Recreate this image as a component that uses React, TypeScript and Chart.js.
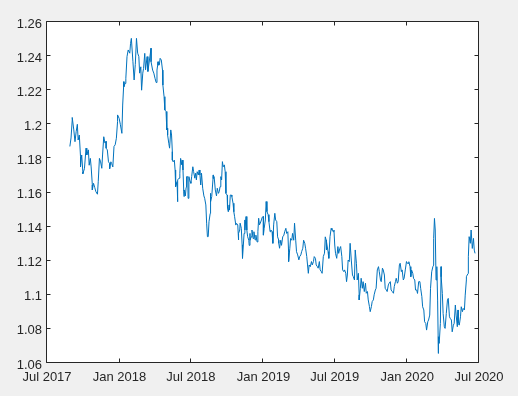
import { useEffect, useRef } from "react";
import { Chart, registerables } from "chart.js";

Chart.register(...registerables);

// x axis: days since 1 Jul 2017
const xTickDays = [0, 184, 365, 549, 730, 914, 1096];
const xTickLabels = ["Jul 2017", "Jan 2018", "Jul 2018", "Jan 2019", "Jul 2019", "Jan 2020", "Jul 2020"];
const yTickValues = [1.06, 1.08, 1.1, 1.12, 1.14, 1.16, 1.18, 1.2, 1.22, 1.24, 1.26];

// observation days (since 1 Jul 2017)
const days = [
  58, 61, 64, 64, 68, 71, 74, 77, 79, 82, 85, 85, 88, 91, 91, 95, 99, 101, 105, 107, 110, 112, 115, 115, 118, 121, 124, 128, 130, 133,
  136, 139, 141, 144, 147, 150, 150, 153, 156, 159, 159, 162, 164, 167, 170, 173, 176, 179, 179, 183, 186, 190, 192, 195, 195, 198, 200, 203, 206, 210,
  212, 214, 218, 221, 224, 227, 230, 233, 235, 238, 240, 243, 245, 248, 250, 254, 256,
  264, 264, 268, 271, 274, 277, 279, 282, 282, 285, 287, 290, 293, 294, 297, 299, 299, 302, 304, 306, 306, 309, 311, 314, 316, 318, 318, 320, 323,
  325, 325, 327, 327, 330, 331, 332, 335, 337, 339, 342, 343, 345, 347, 348, 348, 351, 353, 354, 357, 358, 360, 363, 365, 367, 370, 372, 375, 377, 379,
  381, 384, 386, 388, 390, 392, 395, 398, 400, 403, 405, 407, 409, 411, 414, 415, 415, 418, 420, 422, 422, 424, 427, 430, 432, 435, 437, 439, 441, 443,
  445, 447, 450, 452, 454, 457, 458, 460, 462, 463, 465, 468, 469, 472, 474, 476, 479, 481,
  484, 486, 486, 489, 490, 493, 495, 495, 497, 500, 502, 502, 505, 507, 509, 512, 513, 515, 515, 518, 520, 523, 525, 528, 530, 533, 535, 537, 539, 541,
  544, 546, 549, 549, 551, 554, 556, 558, 561, 563, 566, 568, 571, 573, 575, 578, 580, 583, 585, 588, 588, 590, 593, 595, 598, 601, 603, 606, 608, 611,
  613, 613, 616, 618, 621, 623, 626, 628, 631, 633, 636, 639, 641, 644, 646, 649, 651, 654, 656, 659, 661, 663, 665, 668, 671, 673, 676, 678, 681, 683,
  686, 688, 691, 693, 696, 698, 701, 704, 706,
  708, 708, 710, 713, 715, 718, 721, 723, 726, 728, 730, 732, 735, 738, 740, 743, 745, 748, 750, 753, 755, 758, 760, 762, 764, 767, 769, 772, 775, 777,
  780, 782, 785, 787, 790, 792, 792, 795, 797, 800, 802, 805, 808, 810, 813, 815, 818, 820, 823, 825, 828, 830, 833, 835, 838, 841, 843, 846, 848, 851,
  853, 856, 858, 861, 863, 866, 868, 871, 873, 876, 879, 881, 884, 886, 889, 891, 894, 896, 899, 901, 904, 906, 909, 912, 914,
  916, 918, 921, 923, 923, 925, 928, 930, 933, 935, 938, 940, 943, 946, 948, 951, 953, 956, 958, 961, 963, 966, 968, 971, 973, 976, 979, 981, 981, 983,
  985, 987, 989, 991, 993, 993, 995, 998, 1000, 1000, 1003, 1005, 1008, 1010, 1013, 1016, 1018, 1021, 1023, 1026, 1028, 1031, 1033, 1036, 1038, 1041, 1043, 1043, 1046, 1049,
  1051, 1054, 1056, 1059, 1061, 1064, 1064, 1066, 1069, 1069, 1071, 1074, 1076, 1079, 1082, 1084, 1086,
];

// exchange rate values
const rates = [
  1.187, 1.192, 1.2025, 1.204, 1.1967, 1.1898, 1.1957, 1.2, 1.1908, 1.1937, 1.181, 1.175, 1.182, 1.172, 1.171, 1.174, 1.186, 1.182, 1.185, 1.176, 1.18, 1.175, 1.1644, 1.1615, 1.1654, 1.163, 1.1605, 1.159, 1.1663, 1.18,
  1.178, 1.1742, 1.182, 1.1927, 1.189, 1.19, 1.186, 1.185, 1.178, 1.177, 1.174, 1.178, 1.177, 1.175, 1.187, 1.188, 1.1918, 1.2015, 1.2055, 1.2035, 1.2, 1.1947, 1.2113, 1.225, 1.222, 1.224, 1.227, 1.2397, 1.2436, 1.2417,
  1.2475, 1.2504, 1.2367, 1.226, 1.235, 1.2504, 1.2417, 1.2397, 1.23, 1.2337, 1.22, 1.23, 1.2328, 1.2416, 1.232, 1.2397, 1.231,
  1.2446, 1.2367, 1.2318, 1.23, 1.227, 1.2245, 1.2318, 1.2367, 1.2348, 1.2348, 1.2387, 1.2377, 1.2318, 1.223, 1.2162, 1.2143, 1.2084, 1.2075, 1.1967, 1.1977, 1.1937, 1.1889, 1.186, 1.1967, 1.1937, 1.184, 1.179, 1.178, 1.179,
  1.1732, 1.1713, 1.1654, 1.1634, 1.1664, 1.1546, 1.1674, 1.1684, 1.1713, 1.18, 1.1762, 1.179, 1.1732, 1.1605, 1.1576, 1.1615, 1.158, 1.163, 1.1693, 1.1693, 1.1566, 1.1693, 1.1664, 1.1654, 1.1693, 1.1751, 1.1722, 1.1684, 1.1713, 1.1674,
  1.1722, 1.1703, 1.1732, 1.1703, 1.1644, 1.1713, 1.1625, 1.158, 1.1566, 1.1527, 1.142, 1.1341, 1.1341, 1.1429, 1.1477, 1.1595, 1.1546, 1.1576, 1.1644, 1.1703, 1.1683, 1.1693, 1.1615, 1.158, 1.1625, 1.1595, 1.1605, 1.1634, 1.1693, 1.1674,
  1.1781, 1.1751, 1.1762, 1.1722, 1.1595, 1.1585, 1.1507, 1.1487, 1.1527, 1.1497, 1.1585, 1.1585, 1.1576, 1.1537, 1.1487, 1.1458, 1.1409, 1.1419,
  1.141, 1.1322, 1.136, 1.138, 1.142, 1.139, 1.1293, 1.1283, 1.1214, 1.136, 1.1439, 1.138, 1.1459, 1.138, 1.1341, 1.132, 1.129, 1.136, 1.132, 1.134, 1.138, 1.133, 1.137, 1.1322, 1.135, 1.131, 1.137, 1.1449, 1.141, 1.142,
  1.1439, 1.1455, 1.1459, 1.135, 1.139, 1.1439, 1.1547, 1.1488, 1.147, 1.1429, 1.137, 1.138, 1.137, 1.1302, 1.141, 1.1478, 1.1439, 1.1429, 1.134, 1.132, 1.1302, 1.1273, 1.132, 1.129, 1.134, 1.135, 1.137, 1.139, 1.136, 1.137,
  1.1244, 1.1195, 1.1273, 1.133, 1.132, 1.136, 1.132, 1.142, 1.132, 1.1253, 1.1234, 1.1205, 1.1224, 1.1234, 1.1253, 1.1273, 1.132, 1.1302, 1.1273, 1.1224, 1.1175, 1.1126, 1.1175, 1.1165, 1.1195, 1.1175, 1.1195, 1.1224, 1.1214, 1.1175,
  1.1165, 1.1156, 1.1195, 1.1146, 1.1136, 1.1126, 1.1224, 1.1244, 1.134,
  1.1322, 1.1263, 1.1312, 1.1253, 1.1214, 1.1341, 1.139, 1.138, 1.137, 1.138, 1.1292, 1.1243, 1.1214, 1.1283, 1.1243, 1.1273, 1.1283, 1.1224, 1.1146, 1.1136, 1.1146, 1.1126, 1.1077, 1.1116, 1.1204, 1.1195, 1.1302, 1.1204, 1.1116, 1.1107,
  1.1087, 1.1263, 1.1185, 1.1087, 1.1126, 1.1, 1.097, 1.1038, 1.1097, 1.1038, 1.1077, 1.1019, 1.1068, 1.1009, 1.1019, 1.097, 1.0931, 1.0901, 1.0931, 1.096, 1.097, 1.1, 1.1028, 1.1038, 1.1146, 1.1165, 1.1136, 1.1087, 1.1077, 1.1156,
  1.1146, 1.1116, 1.1038, 1.1028, 1.1019, 1.1058, 1.1068, 1.1077, 1.1028, 1.1019, 1.1009, 1.1048, 1.1077, 1.1097, 1.1068, 1.1077, 1.1175, 1.1185, 1.1136, 1.1146, 1.1087, 1.1097, 1.1146, 1.1195, 1.1185,
  1.1184, 1.1194, 1.1165, 1.1116, 1.1106, 1.1145, 1.1126, 1.1096, 1.1087, 1.1028, 1.1028, 1.1008, 1.1077, 1.1077, 1.1038, 1.0989, 1.093, 1.0911, 1.0842, 1.0832, 1.0793, 1.0842, 1.0852, 1.0881, 1.1038, 1.1135, 1.1165, 1.1174, 1.1331, 1.1448,
  1.138, 1.1087, 1.1165, 1.0969, 1.0656, 1.0754, 1.0715, 1.0832, 1.1165, 1.1106, 1.1008, 1.089, 1.0813, 1.0803, 1.089, 1.0969, 1.0979, 1.0871, 1.0862, 1.0852, 1.0783, 1.0822, 1.0832, 1.094, 1.0881, 1.0813, 1.0911, 1.0832, 1.0822, 1.0871,
  1.093, 1.0901, 1.092, 1.0911, 1.0998, 1.1087, 1.1106, 1.1116, 1.1126, 1.1223, 1.1341, 1.1302, 1.138, 1.1272, 1.1331, 1.1262, 1.1243,
];

const W = 518;
const H = 396;
const axisColor = "#262626";
const lineColor = "#0072BD";
const fontFamily = "'Liberation Sans', Arial, Helvetica, sans-serif";

const matlabAxes = {
  id: "matlabAxes",
  beforeDraw(chart: any) {
    const { ctx, chartArea: a } = chart;
    ctx.save();
    ctx.fillStyle = "#ffffff";
    ctx.fillRect(a.left, a.top, a.right - a.left, a.bottom - a.top);
    ctx.restore();
  },
  afterDraw(chart: any) {
    const { ctx, chartArea: a, scales } = chart;
    const tl = 4;
    const L = Math.round(a.left) - 0.5;
    const R = Math.round(a.right) - 0.5;
    const T = Math.round(a.top) - 0.5;
    const B = Math.round(a.bottom) - 0.5;
    ctx.save();
    ctx.strokeStyle = axisColor;
    ctx.lineWidth = 1;
    ctx.beginPath();
    ctx.rect(L, T, R - L, B - T);
    for (const v of xTickDays) {
      const px = Math.round(scales.x.getPixelForValue(v)) - 0.5;
      ctx.moveTo(px, B);
      ctx.lineTo(px, B - tl);
      ctx.moveTo(px, T);
      ctx.lineTo(px, T + tl);
    }
    for (const v of yTickValues) {
      const py = Math.round(scales.y.getPixelForValue(v)) - 0.5;
      ctx.moveTo(L, py);
      ctx.lineTo(L + tl, py);
      ctx.moveTo(R, py);
      ctx.lineTo(R - tl, py);
    }
    ctx.stroke();
    ctx.restore();
  },
};

export default function App() {
  const ref = useRef<HTMLCanvasElement | null>(null);

  useEffect(() => {
    document.body.style.margin = "0";
    const canvas = ref.current;
    if (!canvas) return;
    const chart = new Chart(canvas, {
      type: "line",
      data: {
        datasets: [
          {
            data: days.map((d, i) => ({ x: d, y: rates[i] })),
            borderColor: lineColor,
            borderWidth: 1,
            pointRadius: 0,
            tension: 0,
            fill: false,
          },
        ],
      },
      options: {
        animation: false,
        responsive: false,
        maintainAspectRatio: false,
        events: [],
        layout: { padding: { top: 22, right: 39, left: 0, bottom: 0 } },
        plugins: { legend: { display: false }, tooltip: { enabled: false } },
        scales: {
          x: {
            type: "linear",
            min: 0,
            max: 1096,
            grid: { display: false, drawTicks: false },
            border: { display: false },
            afterBuildTicks: (s: any) => {
              s.ticks = xTickDays.map((v) => ({ value: v }));
            },
            afterFit: (s: any) => {
              s.height = 33;
            },
            ticks: {
              autoSkip: false,
              maxRotation: 0,
              padding: 7,
              color: axisColor,
              font: { family: fontFamily, size: 13 },
              callback: (_v: any, i: number) => xTickLabels[i],
            },
          },
          y: {
            type: "linear",
            min: 1.06,
            max: 1.26,
            grid: { display: false, drawTicks: false },
            border: { display: false },
            afterBuildTicks: (s: any) => {
              s.ticks = yTickValues.map((v) => ({ value: v }));
            },
            afterFit: (s: any) => {
              s.width = 47;
            },
            ticks: {
              autoSkip: false,
              padding: 5,
              labelOffset: 2,
              color: axisColor,
              font: { family: fontFamily, size: 13 },
              callback: (v: any) => String(Number(Number(v).toFixed(2))),
            },
          },
        },
      },
      plugins: [matlabAxes],
    });
    return () => chart.destroy();
  }, []);

  return (
    <div style={{ width: W, height: H, background: "#f0f0f0" }}>
      <canvas ref={ref} width={W} height={H} style={{ display: "block", width: W, height: H }} />
    </div>
  );
}
